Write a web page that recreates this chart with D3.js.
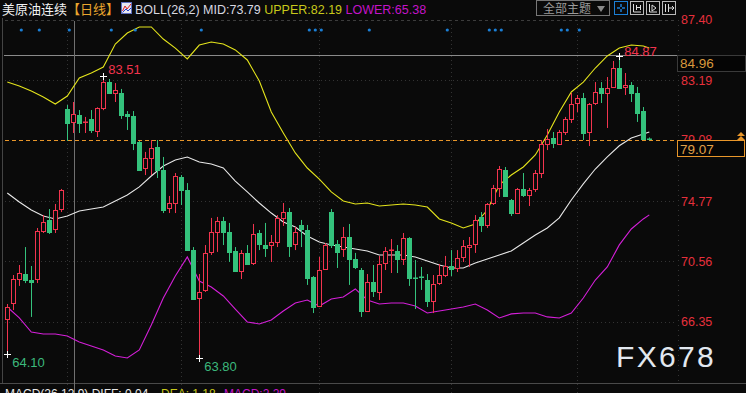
<!DOCTYPE html>
<html><head><meta charset="utf-8">
<script src="https://cdn.jsdelivr.net/npm/d3@7"></script>
<style>html,body{margin:0;padding:0;background:#0a0a0a;overflow:hidden}svg{display:block}</style>
</head><body><svg id="c" width="746" height="393"></svg>
<script>
// ---- data ----
const opens = [66.55,67.66,69.33,69.68,69.26,69.33,72.68,73.45,72.82,74.21,
81.18,80.28,80.76,80.21,80.49,79.65,81.25,83.06,82.30,82.30,
80.83,80.69,78.88,77.07,77.77,78.53,76.93,74.28,74.63,76.44,
75.54,71.35,68.01,68.57,71.22,72.61,73.38,72.61,71.29,69.89,
71.15,70.45,72.54,71.70,71.70,71.91,73.59,74.00,71.77,73.10,
72.75,69.47,67.45,70.03,74.00,71.77,71.42,72.26,70.73,69.96,
67.10,69.12,68.43,70.45,71.29,71.29,70.73,72.19,69.40,69.47,
69.26,67.80,69.05,69.61,70.24,70.10,70.87,71.56,71.77,73.66,
73.10,74.63,75.68,76.93,74.84,73.93,75.61,75.19,75.61,76.72,
78.74,79.16,78.74,79.58,80.49,81.60,81.95,79.58,81.60,82.65,
82.30,82.72,84.04,82.72,82.86,82.30,81.04,79.12];
const closes = [67.38,69.33,69.75,69.26,69.12,72.68,73.31,72.61,74.14,75.54,
80.21,80.83,80.21,80.28,79.72,81.25,83.06,82.30,82.51,80.76,
80.69,78.81,76.93,77.77,78.46,76.93,74.14,74.63,76.51,75.54,
71.35,67.94,68.43,71.15,72.61,73.38,72.61,71.22,69.89,71.15,
70.38,72.47,71.77,71.49,71.91,73.59,74.00,71.63,72.61,72.82,
69.40,67.38,69.96,71.70,71.70,71.22,72.26,70.73,70.17,67.10,
69.12,68.50,70.38,71.29,71.35,70.73,72.19,69.40,69.33,69.40,
67.80,68.99,69.61,70.24,70.03,70.80,71.63,71.70,73.45,73.10,
74.56,75.68,77.00,75.12,73.93,75.61,75.19,75.54,76.72,78.74,
79.09,78.81,79.58,80.49,81.53,81.95,79.51,81.53,82.37,82.30,
82.65,84.04,82.65,82.86,82.30,80.90,79.09,79.07];
const highs = [67.59,69.61,70.31,71.56,70.24,72.89,73.79,74.21,74.56,75.61,
81.46,81.67,81.11,80.63,81.11,81.30,83.51,83.27,82.99,82.58,
81.04,81.04,78.95,78.19,79.02,79.02,77.84,75.12,76.72,76.58,
76.02,71.56,69.68,71.70,73.59,73.66,73.66,73.24,71.56,71.35,
71.70,73.17,72.75,73.24,72.40,73.79,74.63,74.28,72.96,73.45,
73.10,69.54,70.87,71.84,74.21,72.05,72.96,73.17,71.15,70.10,
69.68,70.31,70.94,71.56,72.12,71.70,72.54,72.25,70.66,70.17,
69.68,69.61,70.38,70.94,71.35,71.35,72.05,72.26,73.79,74.00,
74.63,75.89,77.21,77.14,74.91,75.68,76.72,75.68,76.93,79.02,
79.79,79.58,79.72,80.63,82.30,82.16,82.30,81.60,83.06,83.06,
83.41,84.53,84.87,83.69,83.06,82.72,81.32,79.20];
const lows = [64.10,67.17,68.85,69.05,66.69,69.05,72.54,72.47,72.54,74.00,
78.95,79.51,79.51,79.51,79.51,79.23,81.10,82.23,81.67,80.49,
79.72,78.32,76.86,76.58,76.58,76.37,73.93,73.93,73.93,74.49,
71.30,67.87,63.80,68.43,71.01,71.22,71.70,70.52,69.82,69.33,
70.31,70.31,71.35,70.87,70.52,71.56,73.03,70.87,71.35,71.56,
68.92,66.96,67.40,69.96,71.49,70.10,70.87,68.92,70.03,66.69,
67.03,68.08,67.87,69.96,69.75,69.75,70.31,68.85,67.24,68.57,
67.38,66.96,68.92,69.47,69.54,69.82,70.52,70.17,71.15,72.61,
72.89,74.49,75.05,75.05,73.72,73.86,75.05,74.42,75.40,76.37,
78.32,78.46,78.67,79.37,80.21,80.97,79.02,78.60,81.46,81.60,
79.86,82.70,82.58,82.16,81.67,80.28,79.02,79.00];

// Bollinger band values read at every other candle
const bandIdx = [0,2,4,6,8,10,12,14,16,18,20,22,24,26,28,30,32,34,36,38,40,42,44,46,48,50,52,54,56,58,60,62,64,66,68,70,72,74,76,78,80,82,84,86,88,90,92,94,96,98,100,102,104,106,107];
const upper = [83.06,82.79,82.44,82.02,81.53,82.09,83.34,83.69,84.11,85.71,86.48,86.90,86.90,86.06,85.43,84.67,85.64,85.85,85.71,85.30,84.60,83.13,80.97,79.51,78.12,77.07,76.30,75.40,74.77,74.56,74.63,74.42,74.49,74.56,74.49,74.35,73.52,73.24,72.89,73.17,74.14,75.89,76.58,77.14,77.98,79.37,80.97,82.37,83.06,84.04,84.88,85.43,85.64,85.57,85.43];
const mid = [75.33,74.70,74.14,73.72,73.52,73.72,74.07,74.21,74.35,74.77,75.19,75.75,76.51,77.21,77.63,77.84,77.49,77.35,77.07,76.16,75.40,74.63,73.93,73.31,72.96,72.33,71.91,71.70,71.56,71.42,71.29,71.01,71.01,71.01,70.87,70.59,70.31,70.10,70.10,70.45,70.73,71.01,71.29,71.84,72.40,72.89,73.59,74.84,75.96,77.00,77.84,78.62,79.16,79.44,79.58];
const lower = [67.38,66.62,65.64,65.50,65.50,65.36,64.94,64.66,64.39,63.97,63.83,64.39,66.13,68.01,69.54,70.87,69.19,68.78,68.15,67.24,66.34,66.20,66.48,67.10,67.66,67.87,67.45,67.94,68.08,68.64,67.87,67.59,67.66,67.66,67.45,66.96,67.10,67.24,67.38,67.59,67.17,66.62,66.90,66.96,66.96,66.69,66.62,66.96,68.01,69.26,70.17,71.71,72.82,73.52,73.80];

const yTicks = [87.40, 83.19, 79.08, 74.77, 70.56, 66.35];
const gridTicks = [87.40, 83.19, 74.77, 70.56, 66.35];
const monthIdx = [10, 29, 52, 74, 95];
const eventIdx = [2,5,10,17,21,32,50,51,52,60,73,80,81,82,92,93,95];
const lastPrice = 79.07;
const hLine = 84.96;
const cursorIdx = 11;
const title = "美原油连续", period = "【日线】";
const boll = {name:"BOLL(26,2)", mid:"MID:73.79", up:"UPPER:82.19", low:"LOWER:65.38"};
const macdTxt = ["MACD(26,12,9) DIFF: 0.04", "DEA: 1.18", "MACD:2.29"];

// ---- scales ----
const svg = d3.select("#c");
const W = 746, H = 393;
const x = d3.scaleLinear().domain([0, 107]).range([7.3, 649.3]);
const y = d3.scaleLinear().domain([66.35, 87.40]).range([321.8, 19.8]);
const px = i => Math.round(x(i)) + 0.5;
const RED = "#f2344e", GREEN = "#34c27c";
const numFont = "'Liberation Sans', Arial, sans-serif";
const cjkFont = "'Noto Sans CJK SC', sans-serif";

svg.append("rect").attr("width", W).attr("height", H).attr("fill", "#0a0a0a");

// grid
const grid = svg.append("g");
grid.selectAll("line.h").data(gridTicks).join("line")
  .attr("x1", 5).attr("x2", 677)
  .attr("y1", d => Math.round(y(d)) + 0.5).attr("y2", d => Math.round(y(d)) + 0.5)
  .attr("stroke", d => d === 87.40 ? "#3c3c3c" : "#333")
  .attr("stroke-dasharray", d => d === 87.40 ? "3,3" : "1,3");
grid.selectAll("line.v").data(monthIdx).join("line")
  .attr("x1", d => px(d)).attr("x2", d => px(d)).attr("y1", 20).attr("y2", 393)
  .attr("stroke", "#333").attr("stroke-dasharray", "1,3");
grid.append("line").attr("x1", 678.5).attr("x2", 678.5).attr("y1", 20).attr("y2", 383)
  .attr("stroke", "#333").attr("stroke-dasharray", "1,4");
// left border
svg.append("line").attr("x1", 2.5).attr("x2", 2.5).attr("y1", 18).attr("y2", 383).attr("stroke", "#444");
// bottom separator
svg.append("line").attr("x1", 0).attr("x2", W).attr("y1", 383.5).attr("y2", 383.5).attr("stroke", "#4a4a4a");

// horizontal line at 84.96
svg.append("line").attr("x1", 4).attr("x2", 677)
  .attr("y1", Math.round(y(hLine)) + 0.5).attr("y2", Math.round(y(hLine)) + 0.5)
  .attr("stroke", "#8a8a8a");
// crosshair vertical
svg.append("line").attr("x1", px(cursorIdx) + 1).attr("x2", px(cursorIdx) + 1)
  .attr("y1", 21).attr("y2", 393).attr("stroke", "#707070");

// bands
const line = d3.line().x((d, k) => x(bandIdx[k])).y(d => y(d));
svg.append("path").datum(upper).attr("d", line).attr("fill", "none").attr("stroke", "#e4e41c").attr("stroke-width", 1.1);
svg.append("path").datum(mid).attr("d", line).attr("fill", "none").attr("stroke", "#e8e8e8").attr("stroke-width", 1.1);
svg.append("path").datum(lower).attr("d", line).attr("fill", "none").attr("stroke", "#d41fd8").attr("stroke-width", 1.1);

// current price dashed line
svg.append("line").attr("x1", 5).attr("x2", 677)
  .attr("y1", Math.round(y(lastPrice)) + 1.5).attr("y2", Math.round(y(lastPrice)) + 1.5)
  .attr("stroke", "#e8962a").attr("stroke-dasharray", "4,3");

// candles
const data = opens.map((o, i) => ({i, o, c: closes[i], h: highs[i], l: lows[i]}));
const cg = svg.append("g");
data.forEach(d => {
  const cx = px(d.i);
  const up = d.c >= d.o;
  const col = up ? RED : GREEN;
  const top = Math.round(y(Math.max(d.o, d.c)));
  const bot = Math.round(y(Math.min(d.o, d.c)));
  cg.append("line").attr("x1", cx).attr("x2", cx)
    .attr("y1", y(d.h)).attr("y2", y(d.l)).attr("stroke", col);
  if (bot - top < 2) {
    cg.append("rect").attr("x", cx - 2.5).attr("y", top - 0.5).attr("width", 5).attr("height", 1.5).attr("fill", col);
  } else if (up) {
    cg.append("rect").attr("x", cx - 2).attr("y", top + 0.5).attr("width", 4).attr("height", bot - top)
      .attr("fill", "#0a0a0a").attr("stroke", col);
  } else {
    cg.append("rect").attr("x", cx - 2.5).attr("y", top).attr("width", 5).attr("height", bot - top + 1).attr("fill", col);
  }
});

// event dots
svg.selectAll("circle.ev").data(eventIdx).join("circle")
  .attr("cx", d => x(d) + 2).attr("cy", 30).attr("r", 1.6).attr("fill", "#1b7fd6");

// extreme labels
function cross(cx, cy) {
  svg.append("line").attr("x1", cx - 3).attr("x2", cx + 4).attr("y1", cy + 0.5).attr("y2", cy + 0.5).attr("stroke", "#fff");
  svg.append("line").attr("x1", cx + 0.5).attr("x2", cx + 0.5).attr("y1", cy - 3).attr("y2", cy + 4).attr("stroke", "#fff");
}
const hiIdx = 16, hi2Idx = 102, loIdx = 0, lo2Idx = 32;
cross(px(hiIdx) - 0.5, Math.round(y(highs[hiIdx])));
cross(px(hi2Idx) - 0.5, Math.round(y(highs[hi2Idx])));
cross(px(loIdx) - 0.5, Math.round(y(lows[loIdx])));
cross(px(lo2Idx) - 0.5, Math.round(y(lows[lo2Idx])));
const lbl = (t, lx, ly, c) => svg.append("text").text(t).attr("x", lx).attr("y", ly)
  .attr("fill", c).attr("font-family", numFont).attr("font-size", 13);
lbl(highs[hiIdx].toFixed(2), x(hiIdx) + 5, y(highs[hiIdx]) - 2, "#f2344e");
lbl(highs[hi2Idx].toFixed(2), x(hi2Idx) + 5, y(highs[hi2Idx]), "#f2344e");
lbl(lows[loIdx].toFixed(2), x(loIdx) + 5, y(lows[loIdx]) + 13, "#3cb87c");
lbl(lows[lo2Idx].toFixed(2), x(lo2Idx) + 5, y(lows[lo2Idx]) + 13, "#3cb87c");

// right axis
const axis = d3.axisRight(y).tickValues(yTicks).tickSize(0).tickPadding(3).tickFormat(d3.format(".2f"));
const ag = svg.append("g").attr("transform", "translate(678,0)").call(axis);
ag.select(".domain").remove();
ag.selectAll("text").attr("fill", "#e6303c").attr("font-family", numFont).attr("font-size", 12.5);

// price boxes
svg.append("rect").attr("x", 677.5).attr("y", Math.round(y(hLine)) + 0.5).attr("width", 68).attr("height", 16)
  .attr("fill", "#050505").attr("stroke", "#3a3a3a");
svg.append("text").text(hLine.toFixed(2)).attr("x", 680).attr("y", Math.round(y(hLine)) + 13)
  .attr("fill", "#d8983c").attr("font-family", numFont).attr("font-size", 13.5);
svg.append("rect").attr("x", 677.5).attr("y", Math.round(y(lastPrice)) + 1.5).attr("width", 67).attr("height", 16)
  .attr("fill", "#050505").attr("stroke", "#e8962a");
svg.append("text").text(lastPrice.toFixed(2)).attr("x", 680).attr("y", Math.round(y(lastPrice)) + 15)
  .attr("fill", "#e0a048").attr("font-family", numFont).attr("font-size", 13.5);
// double arrow
const ay = Math.round(y(lastPrice)) - 7;
svg.append("path").attr("d", `M737,${ay+4} L741,${ay} L745,${ay+4} Z M737,${ay+8} L741,${ay+4} L745,${ay+8} Z`).attr("fill", "#e8962a");

// watermark
svg.append("text").text("FX678").attr("x", 616).attr("y", 367)
  .attr("fill", "#e2e8f0").attr("font-family", numFont).attr("font-size", 30).attr("letter-spacing", 2.3);

// header
const hdr = svg.append("text").attr("y", 13.5).attr("font-size", 12);
hdr.append("tspan").text(title).attr("x", 2).attr("fill", "#f2f2f2").attr("font-family", cjkFont).attr("font-size", 13);
hdr.append("tspan").text(period).attr("fill", "#eaa62e").attr("font-family", cjkFont).attr("font-size", 13);
// small icon
svg.append("rect").attr("x", 121.5).attr("y", 2.5).attr("width", 10).attr("height", 11).attr("fill", "#e8e8f0").attr("stroke", "#6070c0");
svg.append("path").attr("d", "M122.5,11 L125,6 L127,9 L131,4").attr("fill", "none").attr("stroke", "#e02020").attr("stroke-width", 1);
svg.append("path").attr("d", "M122.5,12.5 L126,9 L128,11 L131,8").attr("fill", "none").attr("stroke", "#2040d0").attr("stroke-width", 1);
const h2 = svg.append("text").attr("y", 13.5).attr("font-family", numFont).attr("font-size", 12.5);
h2.append("tspan").text(boll.name).attr("x", 135).attr("fill", "#d8d8e0");
h2.append("tspan").text(" " + boll.mid).attr("fill", "#d8d8e0");
h2.append("tspan").text("  " + boll.up).attr("fill", "#c8c81a");
h2.append("tspan").text("  " + boll.low).attr("fill", "#c414c8");

// top-right controls
svg.append("rect").attr("x", 536.5).attr("y", 0.5).attr("width", 73).attr("height", 15).attr("fill", "none").attr("stroke", "#777");
svg.append("text").text("全部主题").attr("x", 543).attr("y", 12.5).attr("fill", "#9a9a9a").attr("font-family", cjkFont).attr("font-size", 12);
svg.append("path").attr("d", "M597,6 L605,6 L601,12 Z").attr("fill", "#8a8a8a");
const icons = [614, 630, 646, 662];
icons.forEach((ix, k) => {
  svg.append("rect").attr("x", ix + 0.5).attr("y", 1.5).attr("width", 13).attr("height", 13)
    .attr("fill", "none").attr("stroke", k === 0 ? "#1b7fd6" : "#b8b8b8");
});
svg.append("path").attr("d", "M621,4 L621,7 M621,9 L621,12 M617,8 L620,8 M622,8 L625,8").attr("stroke", "#1b7fd6").attr("stroke-width", 1.5);
svg.append("path").attr("d", "M633.5,4 L633.5,12 L641,12 M636.5,5 L636.5,10 M640.5,5 L640.5,10 M636.5,7.5 L640.5,7.5").attr("stroke", "#ddd").attr("fill", "none");
svg.append("path").attr("d", "M649.5,4 L649.5,12 L657,12 M652,5 L656,8 L652,11 Z").attr("stroke", "#ddd").attr("fill", "none");
svg.append("path").attr("d", "M665.5,4 L665.5,12 M668.5,4 L668.5,12 M668,8 L674,8 M672,6 L674,8 L672,10").attr("stroke", "#ddd").attr("fill", "none");

// MACD caption (partially visible, as in the reference)
const mt = svg.append("text").attr("y", 397.5).attr("font-family", numFont).attr("font-size", 12);
mt.append("tspan").text(macdTxt[0]).attr("x", 5).attr("fill", "#e8e8e8");
mt.append("tspan").text(macdTxt[1]).attr("x", 161).attr("fill", "#c8c81a");
mt.append("tspan").text(macdTxt[2]).attr("x", 224).attr("fill", "#c414c8");
</script></body></html>
